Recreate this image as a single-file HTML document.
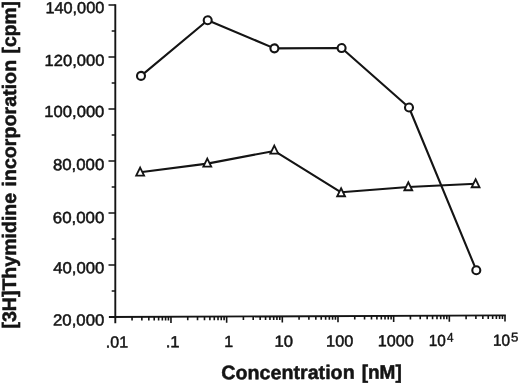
<!DOCTYPE html>
<html><head><meta charset="utf-8"><title>Chart</title>
<style>
html,body{margin:0;padding:0;background:#fff;}
svg{display:block}
text{font-family:"Liberation Sans",Arial,Helvetica,sans-serif;fill:#141414;stroke:#141414;stroke-width:0.5px;stroke-linejoin:round;}
.t{font-size:16px;}
.s{font-size:12.6px;stroke-width:0.4px;}
.b{font-weight:bold;font-size:19.5px;stroke-width:0.5px;}
</style></head><body>
<svg width="520" height="384" viewBox="0 0 520 384">
<rect width="520" height="384" fill="#fff"/>
<g transform="matrix(1 -0.00410 0 1 0 0.4727)">
<g stroke="#141414" stroke-width="1.6" fill="none" stroke-linecap="butt">
<path stroke-width="1.9" d="M115.30 4.20V323.20"/>
<path stroke-width="1.9" d="M108.90 317.00H505.80"/>
<path d="M108.50 5.00H115.30M111.70 31.00H115.30M108.50 57.00H115.30M111.70 83.00H115.30M108.50 109.00H115.30M111.70 135.00H115.30M108.50 161.00H115.30M111.70 187.00H115.30M108.50 213.00H115.30M111.70 239.00H115.30M108.50 265.00H115.30M111.70 291.00H115.30"/>
<path d="M132.06 317.00v3.6M141.86 317.00v3.6M148.82 317.00v3.6M154.21 317.00v3.6M158.62 317.00v3.6M162.35 317.00v3.6M165.58 317.00v3.6M168.42 317.00v3.6M170.97 317.00v6.2M187.73 317.00v3.6M197.53 317.00v3.6M204.49 317.00v3.6M209.88 317.00v3.6M214.29 317.00v3.6M218.02 317.00v3.6M221.25 317.00v3.6M224.10 317.00v3.6M226.64 317.00v6.2M243.40 317.00v3.6M253.20 317.00v3.6M260.16 317.00v3.6M265.56 317.00v3.6M269.96 317.00v3.6M273.69 317.00v3.6M276.92 317.00v3.6M279.77 317.00v3.6M282.31 317.00v6.2M299.07 317.00v3.6M308.88 317.00v3.6M315.83 317.00v3.6M321.23 317.00v3.6M325.64 317.00v3.6M329.36 317.00v3.6M332.59 317.00v3.6M335.44 317.00v3.6M337.99 317.00v6.2M354.74 317.00v3.6M364.55 317.00v3.6M371.50 317.00v3.6M376.90 317.00v3.6M381.31 317.00v3.6M385.03 317.00v3.6M388.26 317.00v3.6M391.11 317.00v3.6M393.66 317.00v6.2M410.42 317.00v3.6M420.22 317.00v3.6M427.17 317.00v3.6M432.57 317.00v3.6M436.98 317.00v3.6M440.70 317.00v3.6M443.93 317.00v3.6M446.78 317.00v3.6M449.33 317.00v6.2M466.09 317.00v3.6M475.89 317.00v3.6M482.85 317.00v3.6M488.24 317.00v3.6M492.65 317.00v3.6M496.38 317.00v3.6M499.60 317.00v3.6M502.45 317.00v3.6M505.00 317.00v6.2"/>
</g>
<g stroke="#141414" fill="none" stroke-width="2.1" stroke-linejoin="round">
<polyline points="141.0,76.0 207.7,20.6 274.4,49.0 341.6,49.0 409.0,108.7 476.3,271.7"/>
<polyline points="140.2,172.4 207.3,164.0 274.3,151.6 341.1,193.2 408.3,188.2 475.6,185.2"/>
</g>
<g stroke="#141414" fill="#fff" stroke-width="2.1">
<circle cx="141.0" cy="76.0" r="4.0"/>
<circle cx="207.7" cy="20.6" r="4.0"/>
<circle cx="274.4" cy="49.0" r="4.0"/>
<circle cx="341.6" cy="49.0" r="4.0"/>
<circle cx="409.0" cy="108.7" r="4.0"/>
<circle cx="476.3" cy="271.7" r="4.0"/>
<path stroke-width="1.8" d="M140.15 167.75L144.10 175.75H136.20Z"/>
<path stroke-width="1.8" d="M207.30 159.03L211.25 167.03H203.35Z"/>
<path stroke-width="1.8" d="M274.30 146.30L278.25 154.30H270.35Z"/>
<path stroke-width="1.8" d="M341.10 189.18L345.05 197.18H337.15Z"/>
<path stroke-width="1.8" d="M408.30 183.45L412.25 191.45H404.35Z"/>
<path stroke-width="1.8" d="M475.60 180.73L479.55 188.73H471.65Z"/>
</g>
<text class="t" transform="translate(45.38 13.00) scale(1.0196 1)">140,000</text>
<text class="t" transform="translate(44.56 65.70) scale(1.0339 1)">120,000</text>
<text class="t" transform="translate(44.36 116.80) scale(1.0375 1)">100,000</text>
<text class="t" transform="translate(52.88 169.90) scale(1.0516 1)">80,000</text>
<text class="t" transform="translate(52.76 222.90) scale(1.0543 1)">60,000</text>
<text class="t" transform="translate(53.22 273.10) scale(1.0446 1)">40,000</text>
<text class="t" transform="translate(52.96 325.30) scale(1.0501 1)">20,000</text>
<text class="t" transform="translate(105.82 347.40) scale(1.0000 1)">.01</text>
<text class="t" transform="translate(165.65 347.40) scale(1.0469 1)">.1</text>
<text class="t" transform="translate(274.55 347.40) scale(1.0401 1)">10</text>
<text class="t" transform="translate(326.07 347.40) scale(1.0209 1)">100</text>
<text class="t" transform="translate(377.68 347.40) scale(1.0130 1)">1000</text>
<text class="t" transform="translate(224.2 347.40)">1</text>
<text class="t" transform="translate(428.75 347.40) scale(0.9586 1)">10</text>
<text class="s" transform="translate(447.04 343.00) scale(0.9272 1)">4</text>
<text class="t" transform="translate(493.05 347.40) scale(0.9586 1)">10</text>
<text class="s" transform="translate(510.97 343.00) scale(1.0526 1)">5</text>
<text class="b" transform="translate(221.31 379.80) scale(1.0099 1)">Concentration</text>
<text class="b" transform="translate(361.65 379.80) scale(0.9769 1)">[nM]</text>
<text class="b" transform="translate(16.40 328.18) rotate(-90) scale(1.0036 1)">[3H]Thymidine</text>
<text class="b" transform="translate(16.40 186.18) rotate(-90) scale(1.0090 1)">incorporation</text>
<text class="b" transform="translate(16.40 53.06) rotate(-90) scale(0.9883 1)">[cpm]</text>
</g>
</svg></body></html>
